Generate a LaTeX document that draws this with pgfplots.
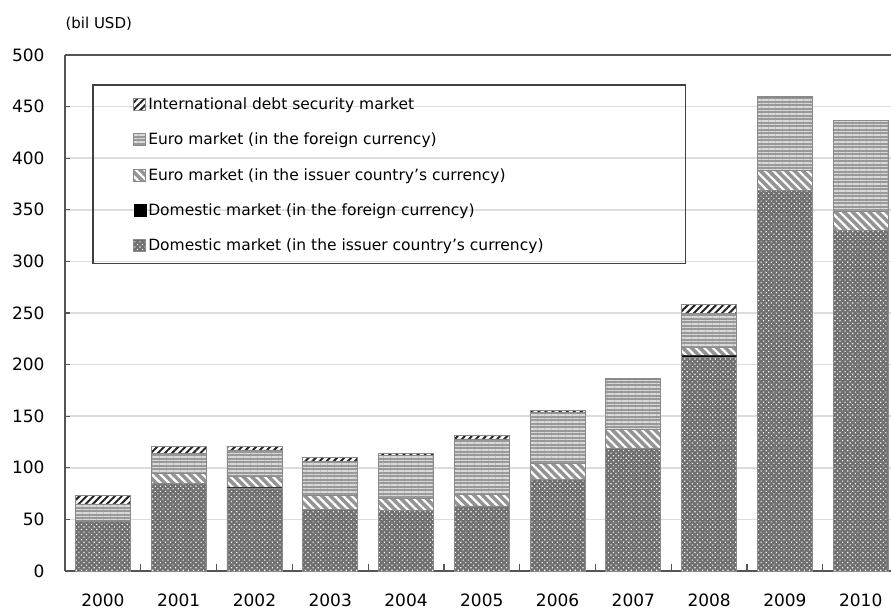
\documentclass[border=0pt]{standalone}
\usepackage{pgfplots}
\pgfplotsset{compat=1.18}
\usepackage{fontspec}
\setmainfont{DejaVu Sans}
\usetikzlibrary{patterns.meta}

\definecolor{axisgray}{HTML}{555555}
\definecolor{gridgray}{HTML}{DDDDDD}
\definecolor{barline}{HTML}{8A8A8A}

% columns: x, domestic (issuer ccy), domestic (foreign ccy), euro (issuer ccy), euro (foreign ccy), international
\pgfplotstableread{
x  domiss domfor euiss eufor intl
0  48     0      1     16    8
1  85     0      10    19    7
2  80     1      11    25    4
3  60     0      13    33    4
4  59     0      11    42    2
5  63     0      11    54    3
6  89     0      15    50    2
7  119    0      18    49    1
8  207    2      8     33    8
9  369    0      19    71    1
10 330    0      18    89    0
}\bonds

\begin{document}
\begin{tikzpicture}
\begin{axis}[
    ybar stacked,
    bar width=55pt,
    width=826pt, height=516pt,
    scale only axis,
    xmin=-0.5, xmax=10.4,
    ymin=0, ymax=500,
    ytick={0,50,...,500},
    xtick={0,...,10},
    xticklabels={2000,2001,2002,2003,2004,2005,2006,2007,2008,2009,2010},
    minor xtick={0.5,1.5,...,9.5},
    major x tick style={draw=none},
    minor tick length=7pt,
    major tick length=5pt,
    tick align=inside,
    tick style={axisgray, line width=1.2pt},
    axis x line*=bottom,
    axis y line*=left,
    axis line style={axisgray, line width=1.5pt, -},
    ymajorgrids=true,
    grid style={gridgray, line width=1.5pt},
    /pgf/number format/assume math mode=true,
    tick label style={font=\fontsize{17}{20}\selectfont},
    xticklabel style={yshift=-19pt},
    yticklabel style={xshift=-17pt},
    ylabel={(bil USD)},
    every axis y label/.style={at={(rel axis cs:0,1)}, anchor=base west, yshift=26pt, xshift=-3pt, font=\fontsize{15}{18}\selectfont},
    legend style={at={(0.079,0.925)}, anchor=north west, draw=none, fill=none,
        font=\fontsize{15.5}{18}\selectfont, row sep=18pt},
    legend cell align=left,
    reverse legend,
    legend image code/.code={\draw[#1] (0pt,-6pt) rectangle (12pt,6pt);},
]
\addplot[fill=black!56, draw=barline, line width=0.8pt,
    postaction={pattern={Dots[angle=45,distance=3.6pt,radius=0.8pt]}, pattern color=white!80}]
    table[x=x, y=domiss] {\bonds};
\addplot[fill=black, draw=none] table[x=x, y=domfor] {\bonds};
\addplot[fill=black!42, draw=barline, line width=0.8pt,
    postaction={pattern={Lines[angle=-45,distance=6pt,line width=2.2pt]}, pattern color=white}]
    table[x=x, y=euiss] {\bonds};
\addplot[fill=black!40, draw=barline, line width=0.8pt,
    postaction={pattern={Lines[angle=0,distance=3.5pt,line width=1.2pt]}, pattern color=black!15}]
    table[x=x, y=eufor] {\bonds};
\addplot[fill=white, draw=barline, line width=0.8pt,
    postaction={pattern={Lines[angle=45,distance=5pt,line width=2pt]}, pattern color=black!85}]
    table[x=x, y=intl] {\bonds};
\legend{Domestic market (in the issuer country's currency),
        Domestic market (in the foreign currency),
        Euro market (in the issuer country's currency),
        Euro market (in the foreign currency),
        International debt security market}
\draw[axisgray, line width=1.5pt] (rel axis cs:0,1) -- (rel axis cs:1,1);
\draw[black!75, line width=1.3pt] (axis cs:-0.13,298) rectangle (axis cs:7.69,471);
\end{axis}
\pgfresetboundingbox
\path[use as bounding box] ([xshift=-65pt, yshift=-40pt]current axis.south west)
    rectangle ([yshift=55pt]current axis.north east);
\end{tikzpicture}
\end{document}
